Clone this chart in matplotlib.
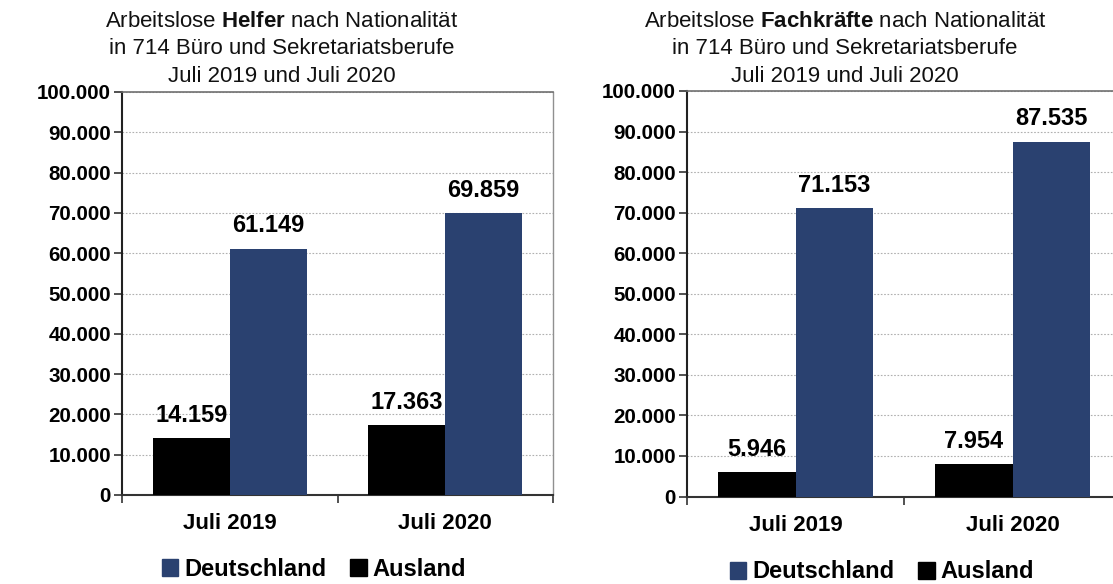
import matplotlib
matplotlib.use("Agg")
import matplotlib.pyplot as plt
from matplotlib.ticker import FuncFormatter, FixedLocator
from matplotlib.patches import Patch

plt.rcParams['font.family'] = ['Liberation Sans', 'DejaVu Sans']
plt.rcParams['mathtext.fontset'] = 'custom'
plt.rcParams['mathtext.rm'] = 'Liberation Sans'
plt.rcParams['mathtext.bf'] = 'Liberation Sans:bold'

categories = ["Juli 2019", "Juli 2020"]
series_names = ["Deutschland", "Ausland"]
helfer_deutschland = [61149, 69859]
helfer_ausland = [14159, 17363]
fach_deutschland = [71153, 87535]
fach_ausland = [5946, 7954]
y_ticks = [0, 10000, 20000, 30000, 40000, 50000, 60000, 70000, 80000, 90000, 100000]

titles = [
    "Arbeitslose $\\mathbf{Helfer}$ nach Nationalität\nin 714 Büro und Sekretariatsberufe\nJuli 2019 und Juli 2020",
    "Arbeitslose $\\mathbf{Fachkräfte}$ nach Nationalität\nin 714 Büro und Sekretariatsberufe\nJuli 2019 und Juli 2020",
]

C_DE = "#2A4170"
C_AUS = "#000000"

W, H = 1113, 584
fig = plt.figure(figsize=(W / 100, H / 100), dpi=100)


def px_axes(x0, y0, x1, y1):
    return fig.add_axes([x0 / W, 1 - y1 / H, (x1 - x0) / W, (y1 - y0) / H])


def fmt(v, pos=None):
    return f"{int(v):,}".replace(",", ".")


def draw(ax, de, aus, title, title_x, legend_x, legend_y):
    x = list(range(len(categories)))
    bw = 0.357
    xa = [i - bw / 2 for i in x]
    xd = [i + bw / 2 for i in x]
    ba = ax.bar(xa, aus, width=bw, color=C_AUS, zorder=3)
    bd = ax.bar(xd, de, width=bw, color=C_DE, zorder=3)
    for bars, vals in ((ba, aus), (bd, de)):
        for b, v in zip(bars, vals):
            ax.annotate(fmt(v), (b.get_x() + b.get_width() / 2, v),
                        xytext=(0, 8), textcoords="offset points",
                        ha="center", va="bottom", fontsize=17,
                        fontweight="bold", color="black", zorder=5)
    ax.set_ylim(0, 100000)
    ax.set_xlim(-0.5, len(categories) - 0.5)
    ax.yaxis.set_major_locator(FixedLocator(y_ticks))
    ax.yaxis.set_major_formatter(FuncFormatter(fmt))
    ax.grid(axis="y", color="#b0b0b0", linestyle=(0, (1.5, 1.5)), linewidth=0.8, zorder=0)
    ax.xaxis.set_major_locator(FixedLocator([i - 0.5 for i in range(len(categories) + 1)]))
    ax.xaxis.set_major_formatter(FuncFormatter(lambda v, p: ""))
    ax.xaxis.set_minor_locator(FixedLocator(x))
    ax.set_xticks(x, categories, minor=True)
    ax.tick_params(axis="x", which="minor", length=0, pad=13, labelsize=16)
    ax.tick_params(axis="x", which="major", length=6, width=1.2, color="#333333")
    ax.tick_params(axis="y", length=6, width=1.2, color="#333333", pad=2, labelsize=14.8)
    for lab in ax.get_xticklabels(minor=True) + ax.get_yticklabels():
        lab.set_fontweight("bold")
    ax.spines["left"].set_color("#222222")
    ax.spines["left"].set_linewidth(1.5)
    ax.spines["bottom"].set_color("#333333")
    ax.spines["bottom"].set_linewidth(1.5)
    ax.spines["top"].set_color("#707070")
    ax.spines["top"].set_linewidth(1.2)
    ax.spines["right"].set_color("#909090")
    ax.spines["right"].set_linewidth(1.0)
    fig.text(title_x / W, 1 - 11 / H, title, ha="center", va="top",
             fontsize=16, linespacing=1.4, color="#111111")
    handles = [Patch(color=C_DE), Patch(color=C_AUS)]
    fig.legend(handles, series_names, loc="center", bbox_to_anchor=(legend_x / W, 1 - legend_y / H),
               ncol=2, frameon=False, handlelength=0.7, handleheight=0.7,
               handletextpad=0.25, columnspacing=1.0,
               prop={"weight": "bold", "size": 17})


ax1 = px_axes(122, 92, 553, 495)
draw(ax1, helfer_deutschland, helfer_ausland, titles[0], 282, 314, 569)
ax2 = px_axes(687, 91, 1121, 496.5)
draw(ax2, fach_deutschland, fach_ausland, titles[1], 845, 882, 572)

fig.savefig("out.png", dpi=100)
